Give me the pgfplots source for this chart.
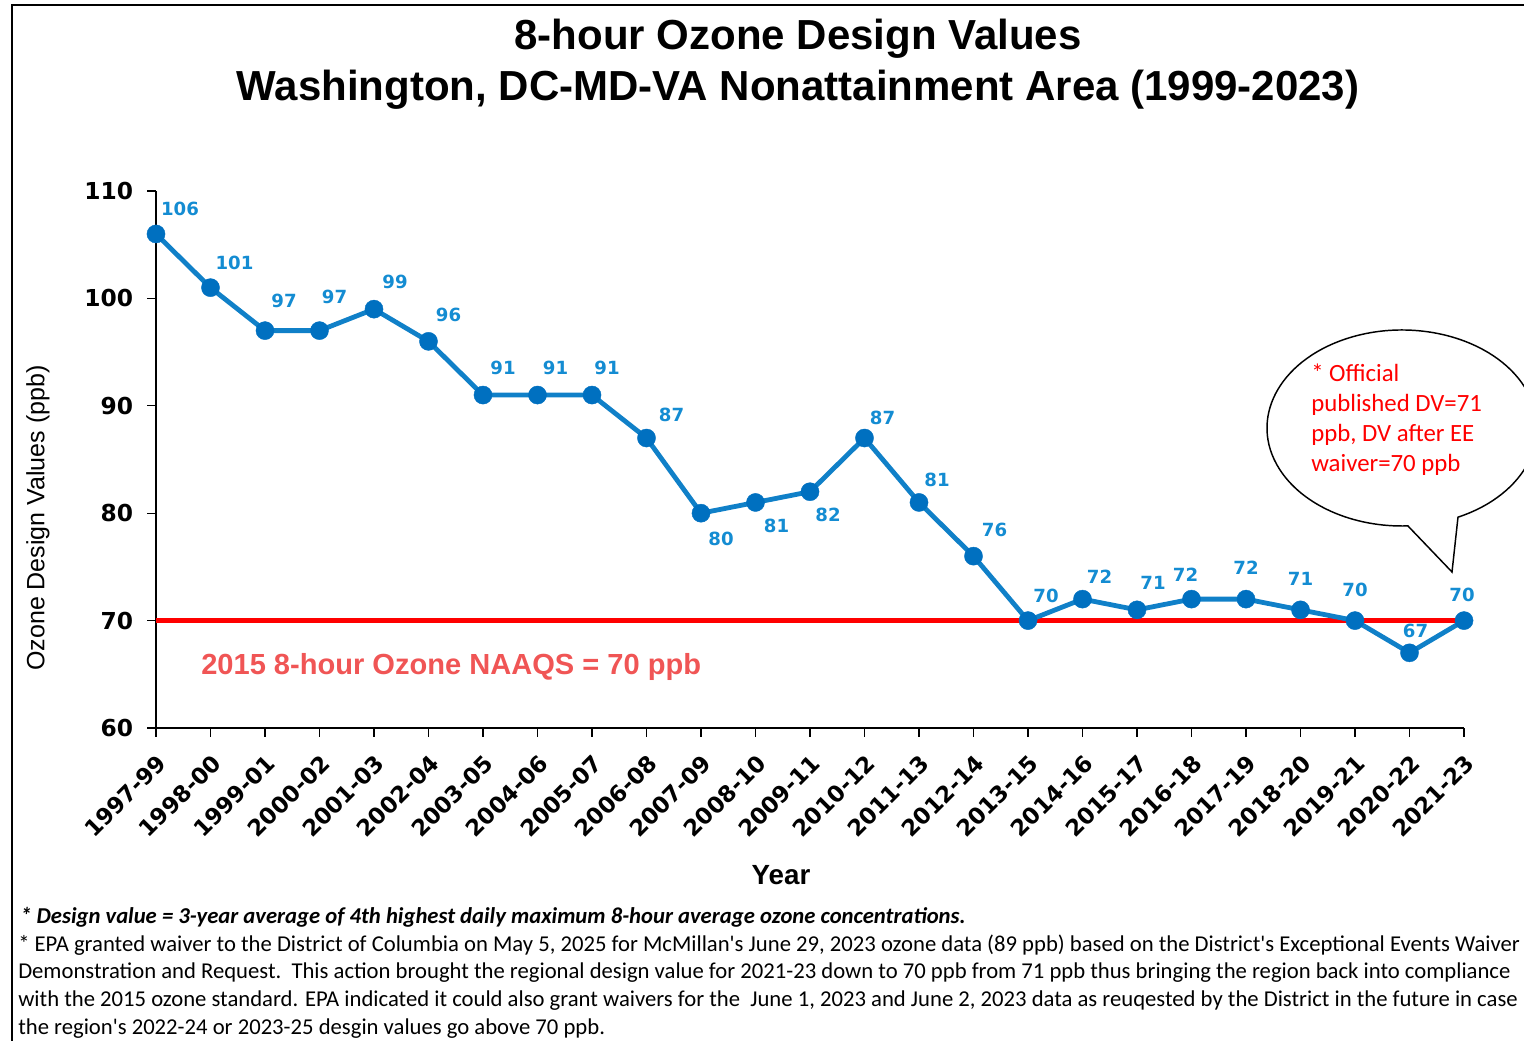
\documentclass[border=0pt]{standalone}
\usepackage{pgfplots}
\pgfplotsset{compat=1.18}
\usepackage{pgfplotstable}
\usepackage{fontspec}
\setmainfont{Liberation Sans}
\newfontfamily\dejavu{DejaVu Sans}
\newfontfamily\carlito{Carlito}
\definecolor{dvblue}{RGB}{0,112,192}
\definecolor{dvline}{RGB}{16,128,200}
\definecolor{dvlab}{RGB}{20,140,210}
\definecolor{naaqs}{RGB}{240,85,85}

\pgfplotstableread{
x y dx dy
0 106 24 25
1 101 24 25
2 97 19 30
3 97 15 34
4 99 21 27
5 96 20 26
6 91 20 27
7 91 18 27
8 91 15 27
9 87 25 23
10 80 20 -26
11 81 21 -23
12 82 18 -23
13 87 18 20
14 81 18 23
15 76 21 26
16 70 18 25
17 72 17 22
18 71 16 27
19 72 -6 24
20 72 0 31
21 71 0 31
22 70 0 31
23 67 6 22
24 70 -2 26
}\dvdata

\begin{document}
\begin{tikzpicture}[x=0.75pt,y=0.75pt]
\path[use as bounding box, clip] (0,0) rectangle (1524,1040);
\draw[line width=1.1pt] (12,-5) -- (12,1035) -- (1540,1035);

\begin{axis}[
  at={(117pt,234pt)}, anchor=south west,
  scale only axis, width=981pt, height=402.75pt,
  xmin=0, xmax=24, ymin=60, ymax=110,
  axis lines*=left,
  axis line style={line width=0.9pt, black},
  tick style={line width=0.9pt, black},
  major tick length=6.5pt, tick align=outside,
  xtick={0,...,24},
  xticklabels={1997-99,1998-00,1999-01,2000-02,2001-03,2002-04,2003-05,2004-06,2005-07,2006-08,2007-09,2008-10,2009-11,2010-12,2011-13,2012-14,2013-15,2014-16,2015-17,2016-18,2017-19,2018-20,2019-21,2020-22,2021-23},
  ytick={60,70,...,110},
  /pgf/number format/assume math mode=true,
  yticklabel style={font=\dejavu\bfseries\fontsize{17.5}{17.5}\selectfont, inner sep=1pt, xshift=-9.5pt},
  xticklabel style={font=\dejavu\bfseries\fontsize{17}{17}\selectfont, rotate=45, anchor=north east, inner sep=8.5pt},
  clip=false,
]
\addplot[red, line width=3.75pt, forget plot] coordinates {(0,70) (24,70)};
\addplot[color=dvline, line width=3.6pt, line join=round,
  mark=*, mark size=6.8pt, mark options={draw=dvblue, fill=dvblue, line width=0.3pt},
  nodes near coords, point meta=explicit symbolic,
  visualization depends on={\thisrow{dx}\as\dx},
  visualization depends on={\thisrow{dy}\as\dy},
  every node near coord/.append style={anchor=center, xshift={\dx*0.75pt}, yshift={\dy*0.75pt},
     font=\dejavu\bfseries\fontsize{13.6}{13.6}\selectfont, text=dvlab, inner sep=0pt}]
  table[x=x, y=y, meta=y]{\dvdata};
\end{axis}

% titles
\node[anchor=base, font=\bfseries\fontsize{31.5}{31.5}\selectfont] at (798,990) {8-hour Ozone Design Values};
\node[anchor=base, font=\bfseries\fontsize{31.5}{31.5}\selectfont] at (798,939) {Washington, DC-MD-VA Nonattainment Area (1999-2023)};

% axis titles
\node[rotate=90, font=\fontsize{18.75}{18.75}\selectfont] at (38,522) {Ozone Design Values (ppb)};
\node[font=\bfseries\fontsize{20.8}{20.8}\selectfont] at (781,165) {Year};

% standard label
\node[anchor=base west, inner sep=0pt, text=naaqs, font=\bfseries\fontsize{21.8}{21.8}\selectfont] at (201,366) {2015 8-hour Ozone NAAQS = 70 ppb};

% callout
\draw[line width=1.1pt, fill=white] (1402,612) ++(-65.5:135 and 98) arc[start angle=-65.5, end angle=272.5, x radius=135, y radius=98] -- (1452,468) -- cycle;
\begin{scope}[every node/.style={anchor=base west, inner sep=0pt, text=red, font=\carlito\fontsize{18.6}{18.6}\selectfont}]
\node at (1311,658) {* Official};
\node at (1311,628) {published DV=71};
\node at (1311,598) {ppb, DV after EE};
\node at (1311,568) {waiver=70 ppb};
\end{scope}

% footnotes
\begin{scope}[every node/.style={anchor=base west, inner sep=0pt, font=\carlito\fontsize{17}{17}\selectfont}]
\node[font=\carlito\bfseries\itshape\fontsize{17}{17}\selectfont] at (20,117) {* Design value = 3-year average of 4th highest daily maximum 8-hour average ozone concentrations.};
\node at (18,89) {* EPA granted waiver to the District of Columbia on May 5, 2025 for McMillan's June 29, 2023 ozone data (89 ppb) based on the District's Exceptional Events Waiver};
\node at (18,62) {Demonstration and Request.\ \ This action brought the regional design value for 2021-23 down to 70 ppb from 71 ppb thus bringing the region back into compliance};
\node at (18,34) {with the 2015 ozone standard. EPA indicated it could also grant waivers for the\ \ June 1, 2023 and June 2, 2023 data as reuqested by the District in the future in case};
\node at (18,6) {the region's 2022-24 or 2023-25 desgin values go above 70 ppb.};
\end{scope}
\end{tikzpicture}
\end{document}
